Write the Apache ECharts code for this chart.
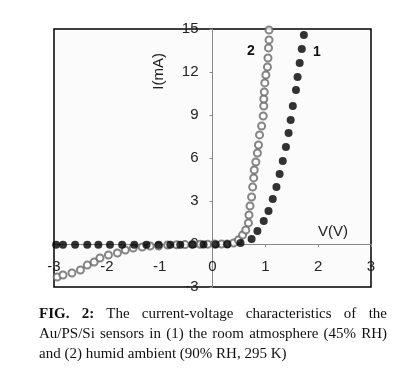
<!DOCTYPE html>
<html>
<head>
<meta charset="utf-8">
<script src="https://cdn.jsdelivr.net/npm/echarts@6/dist/echarts.min.js"></script>
<style>
  body { margin: 0; background: #fff; }
  #wrap { position: relative; width: 399px; height: 377px; }
  #chart { position: absolute; left: 0; top: 0; width: 399px; height: 377px; }
  #caption { position: absolute; left: 39px; top: 303px; width: 348px;
    font-family: "Liberation Serif", "DejaVu Serif", serif; font-size: 15px; line-height: 20px; color: #111; }
  .j { text-align: justify; text-align-last: justify; white-space: nowrap; }
</style>
</head>
<body>
<div id="wrap">
  <div id="chart"></div>
  <div id="caption">
    <div class="j"><b>FIG. 2:</b> The current-voltage characteristics of the</div>
    <div class="j">Au/PS/Si sensors in (1) the room atmosphere (45% RH)</div>
    <div>and (2) humid ambient (90% RH, 295 K)</div>
  </div>
</div>
<script>
  // curve 1: room atmosphere (filled dots)
  var v1 = [-2.96, -2.83, -2.60, -2.37, -2.16, -1.94, -1.71, -1.48, -1.25, -1.02, -0.80, -0.61, -0.38, -0.17,
            0.06, 0.28, 0.53, 0.74, 0.85, 0.97, 1.06, 1.14, 1.21, 1.27, 1.33, 1.39, 1.44, 1.48, 1.52, 1.58,
            1.61, 1.65, 1.69, 1.73];
  var i1 = [-0.06, -0.06, -0.06, -0.06, -0.06, -0.06, -0.06, -0.06, -0.06, -0.05, -0.05, -0.05, -0.04, -0.04,
            -0.03, -0.02, 0.07, 0.35, 0.91, 1.60, 2.30, 3.14, 3.98, 4.88, 5.79, 6.77, 7.75, 8.65, 9.63, 10.75,
            11.65, 12.63, 13.61, 14.58];
  // curve 2: humid ambient (open circles)
  var v2 = [-2.94, -2.83, -2.66, -2.50, -2.37, -2.24, -2.13, -1.97, -1.80, -1.65, -1.50, -1.33, -1.18, -1.02,
            -0.85, -0.68, -0.52, -0.38, -0.23, -0.09, 0.04, 0.17, 0.28, 0.40, 0.49, 0.57, 0.63, 0.68, 0.69,
            0.71, 0.74, 0.76, 0.78, 0.79, 0.82, 0.85, 0.87, 0.89, 0.93, 0.96, 0.97, 0.97, 0.98, 0.99, 1.01,
            1.04, 1.05, 1.06, 1.07, 1.07];
  var i2 = [-2.30, -2.16, -2.02, -1.81, -1.47, -1.26, -0.98, -0.77, -0.63, -0.42, -0.28, -0.21, -0.14, -0.14,
            -0.07, -0.05, -0.04, -0.03, -0.02, -0.01, 0, 0, 0, 0.07, 0.28, 0.63, 0.98, 1.47, 2.02,
            2.65, 3.28, 3.98, 4.61, 5.16, 5.72, 6.35, 6.91, 7.61, 8.23, 8.93, 9.63, 10.12, 10.61, 11.24, 11.79,
            12.35, 12.98, 13.68, 14.24, 14.93];

  var xName = 'V(V)';
  var yName = 'I(mA)';

  function pairs(xs, ys) {
    var out = [];
    for (var k = 0; k < xs.length; k++) out.push([xs[k], ys[k]]);
    return out;
  }

  var chart = echarts.init(document.getElementById('chart'));
  var axisFont = { fontFamily: 'Liberation Sans, Arial, sans-serif', fontSize: 15, color: '#222' };

  // axes cross at (0,0): shift them in from the grid edges
  var gridLeft = 54, gridRight = 28, gridTop = 29, gridBottom = 90;
  var plotW = 399 - gridLeft - gridRight, plotH = 377 - gridTop - gridBottom;
  var yShift = plotW * (0 - (-3)) / 6;     // x = 0 inside [-3, 3]
  var xShift = plotH * (0 - (-3)) / 18;    // y = 0 inside [-3, 15]

  chart.setOption({
    animation: false,
    grid: {
      left: gridLeft, right: gridRight, top: gridTop, bottom: gridBottom,
      show: true, borderColor: '#000', borderWidth: 1.5, backgroundColor: '#fbfbfb'
    },
    xAxis: {
      type: 'value', min: -3, max: 3, interval: 1,
      offset: -xShift,
      axisLine: { onZero: false, lineStyle: { color: '#888', width: 1 } },
      axisTick: { show: true, inside: false, length: 3, lineStyle: { color: '#888' } },
      axisLabel: Object.assign({ margin: 15 }, axisFont),
      splitLine: { show: false }
    },
    yAxis: {
      type: 'value', min: -3, max: 15, interval: 3,
      offset: -yShift,
      axisLine: { show: true, onZero: false, lineStyle: { color: '#888', width: 1 } },
      axisTick: { show: true, inside: false, length: 3, lineStyle: { color: '#888' } },
      axisLabel: Object.assign({ margin: 14 }, axisFont),
      splitLine: { show: false }
    },
    graphic: [
      { type: 'text', left: 151, top: 53, rotation: Math.PI / 2,
        style: { text: yName, font: '15px Liberation Sans, Arial, sans-serif', fill: '#222' } },
      { type: 'text', left: 318, top: 224, style: { text: xName, font: '15px Liberation Sans, Arial, sans-serif', fill: '#222' } },
      { type: 'text', left: 247, top: 44, style: { text: '2', font: 'bold 14px Liberation Sans, Arial, sans-serif', fill: '#111' } },
      { type: 'text', left: 313, top: 45, style: { text: '1', font: 'bold 14px Liberation Sans, Arial, sans-serif', fill: '#111' } }
    ],
    series: [
      {
        name: '2', type: 'scatter', symbol: 'emptyCircle', symbolSize: 7,
        itemStyle: { color: '#666', borderWidth: 1 },
        data: pairs(v2, i2)
      },
      {
        name: '1', type: 'scatter', symbol: 'circle', symbolSize: 8,
        itemStyle: { color: '#000' },
        data: pairs(v1, i1)
      }
    ]
  });
</script>
</body>
</html>
